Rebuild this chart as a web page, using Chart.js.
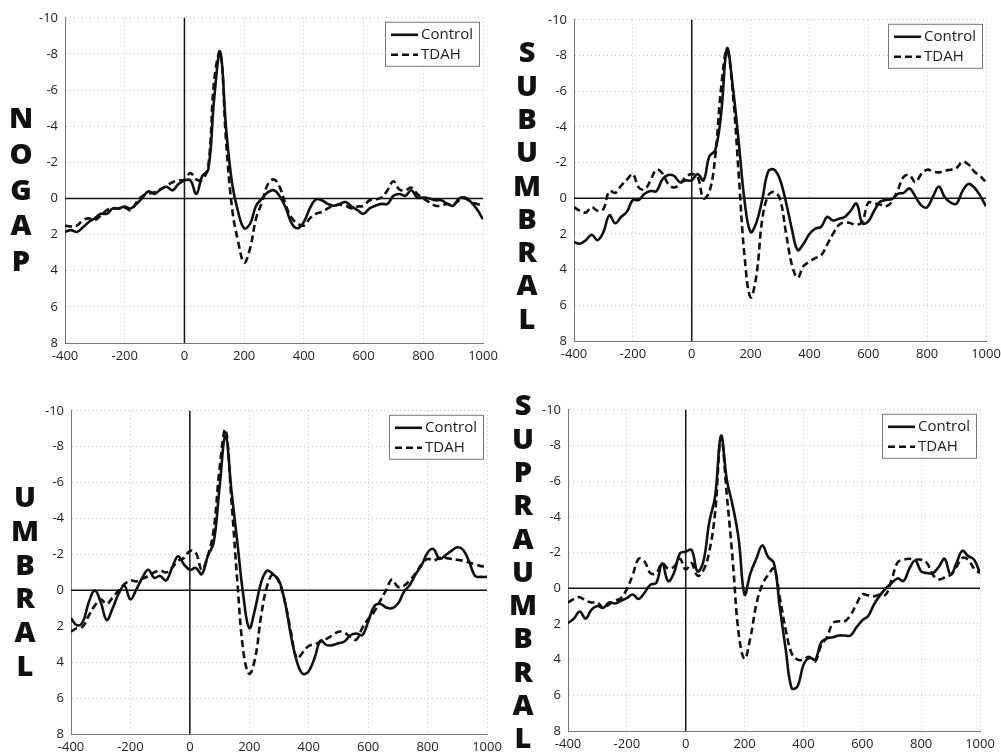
<!DOCTYPE html>
<html>
<head>
<meta charset="utf-8">
<script src="https://cdn.jsdelivr.net/npm/chart.js@4.4.0/dist/chart.umd.min.js"></script>
<style>
body { margin: 0; background: #fff; width: 1001px; height: 755px; position: relative; overflow: hidden; font-family: 'Open Sans', sans-serif; }
canvas { position: absolute; }
.word { position: absolute; width: 40px; font-weight: 800; font-size: 29px; color: #111; text-align: center; }
.word span { display: block; }
</style>
</head>
<body>
<canvas id="nogap"></canvas>
<canvas id="subumbral"></canvas>
<canvas id="umbral"></canvas>
<canvas id="supraumbral"></canvas>
<script>
// time axis (ms), one sample every 20 ms
const times = [];
for (let t = -400; t <= 1000; t += 20) times.push(t);

const xTicks = [-400, -200, 0, 200, 400, 600, 800, 1000];
const yTicks = [-10, -8, -6, -4, -2, 0, 2, 4, 6, 8];
const seriesNames = ['Control', 'TDAH'];

// values (µV, negative up)
const nogapControl = [1.85, 1.75, 1.85, 1.6, 1.3, 1.1, 0.85, 0.85, 0.55, 0.55, 0.45, 0.55, 0.3, -0.05, -0.4, -0.25, -0.5, -0.65, -0.45, -0.8,
  -1.0, -1.0, -0.25, -1.25, -1.6, -5.6, -8.1, -3.8, -0.8, 0.75, 1.65, 1.4, 0.4, 0.0, -0.35, -0.45, -0.1, 0.55, 1.4, 1.65,
  1.3, 0.55, 0.05, 0.1, 0.3, 0.4, 0.3, 0.2, 0.45, 0.65, 0.85, 0.55, 0.4, 0.3, 0.3, -0.15, -0.25, -0.15, -0.45, -0.05,
  -0.05, 0.0, 0.1, 0.1, 0.3, 0.4, 0.0, -0.05, 0.2, 0.6, 1.15];
const nogapTdah = [1.5, 1.55, 1.5, 1.2, 1.1, 1.2, 0.95, 0.65, 0.55, 0.55, 0.5, 0.65, 0.2, -0.15, -0.25, -0.35, -0.5, -0.7, -0.9, -1.0,
  -1.05, -1.4, -1.05, -1.05, -1.8, -6.6, -8.1, -3.05, 0.6, 2.4, 3.55, 2.75, 1.1, 0.2, -0.8, -1.05, -0.6, 0.4, 1.1, 1.4,
  1.5, 1.1, 0.85, 0.75, 0.55, 0.4, 0.35, 0.4, 0.55, 0.45, 0.4, 0.1, 0.05, -0.05, -0.45, -0.95, -0.5, -0.45, -0.6, -0.25,
  0.0, 0.2, 0.4, 0.4, 0.3, 0.35, 0.1, 0.0, 0.2, 0.3, 0.4];

const subControl = [2.45, 2.55, 2.35, 2.05, 2.35, 1.9, 0.95, 1.4, 1.05, 0.75, 0.1, 0.1, -0.25, -0.4, -0.4, -1.05, -1.3, -1.25, -0.9, -1.0,
  -1.0, -1.35, -1.0, -2.35, -2.7, -4.75, -8.4, -6.2, -3.1, 0.2, 1.9, 1.35, 0.05, -1.5, -1.6, -1.05, 0.2, 1.7, 2.9, 2.55,
  2.0, 1.7, 1.6, 1.05, 1.25, 1.15, 1.05, 0.7, 0.3, 1.4, 1.3, 0.7, 0.2, 0.1, 0.05, -0.25, -0.3, -0.55, -0.1, 0.4,
  0.5, -0.1, -0.65, -0.05, 0.25, 0.3, -0.4, -0.8, -0.6, -0.15, 0.45];
const subTdah = [0.5, 0.7, 0.8, 0.5, 0.7, 0.6, -0.4, -0.3, -0.7, -1.05, -1.35, -0.6, -0.5, -1.0, -1.6, -1.4, -0.8, -0.6, -0.8, -1.2,
  -1.35, -1.2, 0.0, -0.35, -2.35, -6.2, -8.3, -5.85, -1.25, 3.35, 5.55, 4.3, 1.15, -0.15, -0.35, 0.05, 1.9, 3.7, 4.45, 3.8,
  3.55, 3.35, 3.2, 2.6, 2.0, 1.5, 1.35, 1.4, 1.5, 1.3, 0.25, 0.3, 0.35, 0.45, 0.2, -0.45, -1.2, -1.3, -0.9, -1.35,
  -1.6, -1.5, -1.45, -1.55, -1.6, -1.7, -2.05, -1.9, -1.5, -1.25, -0.9];

const umbControl = [1.55, 1.95, 1.75, 0.65, 0.0, 0.65, 1.65, 1.0, 0.2, -0.25, 0.5, -0.05, -0.7, -1.15, -0.7, -0.8, -0.55, -1.25, -1.9, -1.45,
  -1.15, -1.25, -0.9, -1.9, -2.65, -5.75, -8.6, -5.55, -2.65, 0.3, 2.1, 1.0, -0.45, -1.1, -0.9, -0.55, 0.65, 2.5, 3.95, 4.65,
  4.5, 3.75, 2.8, 3.05, 3.05, 2.95, 2.85, 2.5, 2.4, 2.5, 1.75, 0.9, 0.75, 0.95, 1.0, 0.75, 0.1, -0.3, -0.9, -1.4,
  -2.1, -2.3, -1.75, -1.95, -2.2, -2.4, -2.25, -1.6, -0.8, -0.75, -0.75];
const umbTdah = [2.3, 2.1, 2.0, 1.4, 0.85, 0.5, 0.75, 0.4, 0.0, -0.35, -0.55, -0.5, -0.65, -0.8, -1.0, -1.1, -1.0, -1.25, -1.65, -1.8,
  -2.2, -2.1, -1.15, -1.9, -3.35, -6.8, -8.95, -5.0, -0.45, 3.4, 4.65, 3.75, 1.4, -0.25, -0.9, -0.45, 0.65, 2.3, 3.8, 3.45,
  3.1, 3.0, 2.85, 2.7, 2.5, 2.3, 2.35, 2.6, 2.75, 2.1, 1.6, 1.2, 0.6, 0.0, -0.6, -0.2, -0.25, -0.55, -0.95, -1.45,
  -1.75, -1.65, -1.8, -1.8, -1.75, -1.7, -1.65, -1.55, -1.45, -1.35, -1.3];

const supraControl = [1.95, 1.7, 1.3, 1.7, 1.2, 1.0, 1.1, 0.8, 0.85, 0.7, 0.55, 0.35, 0.6, 0.25, -0.2, -0.3, -1.4, -0.4, -0.85, -1.95,
  -2.05, -2.15, -0.95, -1.5, -3.7, -5.15, -8.55, -6.05, -4.6, -2.75, 0.35, -0.85, -1.65, -2.4, -1.75, -1.4, 1.1, 3.45, 5.6, 5.5,
  4.3, 3.9, 4.0, 3.05, 2.8, 2.75, 2.65, 2.65, 2.65, 2.2, 1.8, 1.55, 0.9, 0.4, 0.0, -0.3, -0.55, -0.4, -1.1, -1.55,
  -0.95, -0.85, -0.85, -1.2, -1.65, -0.75, -1.4, -2.1, -1.8, -1.6, -0.85];
const supraTdah = [0.8, 0.6, 0.5, 0.7, 0.8, 0.8, 1.1, 0.9, 0.7, 0.55, 0.05, -0.75, -1.65, -1.5, -0.85, -0.85, -1.4, -1.1, -1.2, -1.65,
  -1.05, -1.4, -0.7, -1.0, -2.05, -4.25, -8.45, -5.15, -1.5, 2.55, 3.95, 2.75, 0.9, -0.2, -0.75, -1.1, 0.55, 2.35, 3.65, 4.0,
  4.0, 3.85, 4.1, 3.2, 2.75, 1.95, 1.85, 1.85, 1.5, 0.9, 0.35, 0.4, 0.45, 0.35, 0.35, -0.5, -1.45, -1.6, -1.65, -1.6,
  -1.6, -1.4, -0.75, -0.5, -0.6, -0.75, -1.2, -1.7, -1.6, -1.1, -0.85];

const Y_AXIS_W = 55, TOP_PAD = 10, X_AXIS_H = 25, RIGHT_PAD = 20;

// black reference lines at t = 0 and 0 µV
const zeroLines = {
  id: 'zeroLines',
  beforeDatasetsDraw(chart) {
    const { ctx, chartArea: a, scales: { x, y } } = chart;
    const x0 = x.getPixelForValue(0), y0 = y.getPixelForValue(0);
    ctx.save();
    ctx.strokeStyle = '#111';
    ctx.lineWidth = 1.5;
    ctx.beginPath();
    ctx.moveTo(a.left, y0); ctx.lineTo(a.right, y0);
    ctx.moveTo(x0, a.top); ctx.lineTo(x0, a.bottom);
    ctx.stroke();
    ctx.restore();
  }
};

// boxed legend in the upper right corner of the plot
const boxLegend = {
  id: 'boxLegend',
  afterDraw(chart) {
    const { ctx, chartArea: a } = chart;
    const w = 94, h = 44, l = a.right - 4 - w, t = a.top + 4;
    ctx.save();
    ctx.fillStyle = '#fff';
    ctx.fillRect(l, t, w, h);
    ctx.strokeStyle = '#777';
    ctx.lineWidth = 1;
    ctx.strokeRect(l + 0.5, t + 0.5, w, h);
    chart.data.datasets.forEach((ds, i) => {
      const yy = t + 13 + i * 20;
      ctx.strokeStyle = ds.borderColor;
      ctx.lineWidth = ds.borderWidth;
      ctx.setLineDash(ds.borderDash || []);
      ctx.beginPath();
      ctx.moveTo(l + 6, yy); ctx.lineTo(l + 33, yy);
      ctx.stroke();
      ctx.setLineDash([]);
      ctx.fillStyle = '#222';
      ctx.font = '15px "Open Sans"';
      ctx.textBaseline = 'middle';
      ctx.fillText(ds.label, l + 36, yy);
    });
    ctx.restore();
  }
};

function toPoints(values) {
  return times.map((t, i) => ({ x: t, y: values[i] }));
}

function makePanel(id, plot, control, tdah) {
  const cv = document.getElementById(id);
  const w = plot.right - plot.left + Y_AXIS_W + RIGHT_PAD;
  const h = plot.bottom - plot.top + TOP_PAD + X_AXIS_H;
  cv.width = w; cv.height = h;
  cv.style.left = (plot.left - Y_AXIS_W) + 'px';
  cv.style.top = (plot.top - TOP_PAD) + 'px';
  cv.style.width = w + 'px'; cv.style.height = h + 'px';

  const tickFont = { family: 'Open Sans', size: 13 };
  return new Chart(cv, {
    type: 'line',
    data: {
      datasets: [
        { label: seriesNames[0], data: toPoints(control), borderColor: '#111', borderWidth: 2.6, pointRadius: 0, tension: 0.4, fill: false },
        { label: seriesNames[1], data: toPoints(tdah), borderColor: '#111', borderWidth: 2.6, borderDash: [7, 4], pointRadius: 0, tension: 0.4, fill: false }
      ]
    },
    options: {
      responsive: false,
      animation: false,
      layout: { padding: { left: 0, top: TOP_PAD, right: RIGHT_PAD, bottom: 0 } },
      plugins: { legend: { display: false }, tooltip: { enabled: false } },
      scales: {
        x: {
          type: 'linear', min: -400, max: 1000,
          afterBuildTicks: s => { s.ticks = xTicks.map(v => ({ value: v })); },
          afterFit: s => { s.height = X_AXIS_H; },
          ticks: { font: tickFont, color: '#222', padding: 5, maxRotation: 0, callback: v => String(v) },
          grid: { color: '#c8c8c8', drawTicks: false },
          border: { display: true, color: '#777', width: 1, dash: [1, 3] }
        },
        y: {
          type: 'linear', min: -10, max: 8, reverse: true,
          afterBuildTicks: s => { s.ticks = yTicks.map(v => ({ value: v })); },
          afterFit: s => { s.width = Y_AXIS_W; },
          ticks: { font: tickFont, color: '#222', padding: 7, callback: v => String(v) },
          grid: { color: '#c8c8c8', drawTicks: false },
          border: { display: true, color: '#777', width: 1, dash: [1, 3] }
        }
      }
    },
    plugins: [zeroLines, boxLegend]
  });
}

makePanel('nogap', { left: 65, right: 483, top: 13, bottom: 343 }, nogapControl, nogapTdah);
makePanel('subumbral', { left: 574, right: 986, top: 15, bottom: 341 }, subControl, subTdah);
makePanel('umbral', { left: 71, right: 487, top: 406, bottom: 734 }, umbControl, umbTdah);
makePanel('supraumbral', { left: 568, right: 980, top: 405, bottom: 731 }, supraControl, supraTdah);

// vertical condition names at the left of each plot
function addWord(text, cx, firstCenter, step) {
  const d = document.createElement('div');
  d.className = 'word';
  d.style.left = (cx - 20) + 'px';
  d.style.top = (firstCenter - step / 2 - 1) + 'px';
  for (const ch of text) {
    const s = document.createElement('span');
    s.textContent = ch;
    s.style.height = step + 'px';
    s.style.lineHeight = step + 'px';
    d.appendChild(s);
  }
  document.body.appendChild(d);
}
addWord('NOGAP', 21, 118, 35.7);
addWord('SUBUMBRAL', 527, 52, 33.3);
addWord('UMBRAL', 25, 497, 33.8);
addWord('SUPRAUMBRAL', 523, 405, 33.3);
</script>
</body>
</html>
